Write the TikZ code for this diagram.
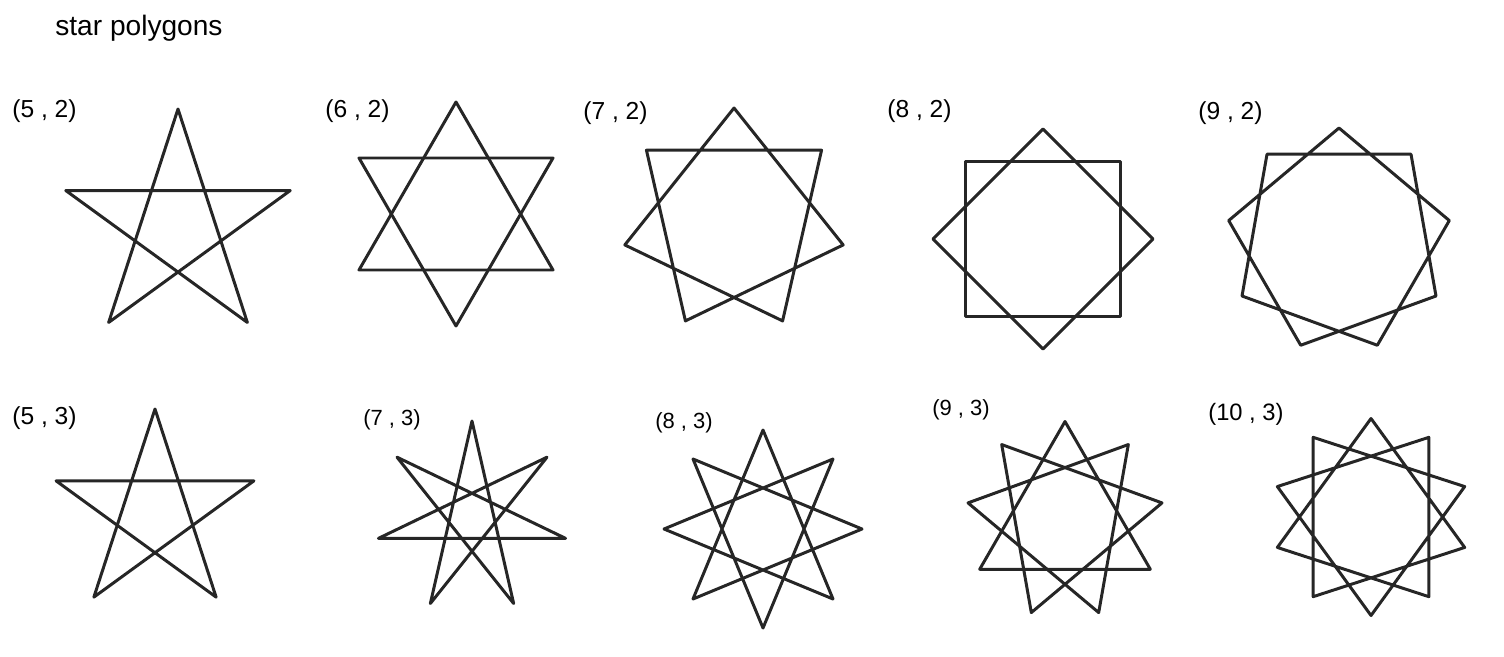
\documentclass[tikz,border=0pt]{standalone}
\usepackage{fontspec}
\setmainfont{Liberation Sans}
\usepackage{tikz}

% #1 centre, #2 radius, #3 n, #4 k
\newcommand{\starpoly}[4]{%
  \pgfmathtruncatemacro{\sgcd}{gcd(#3,#4)}%
  \pgfmathtruncatemacro{\slen}{#3/\sgcd-1}%
  \foreach \j in {1,...,\sgcd}{
    \draw[starline, shift={(#1)}] ({90+360*\j/#3}:#2)
      \foreach \i in {1,...,\slen}{ -- ({90+360*(\j+\i*#4)/#3}:#2)} -- cycle;
  }}

\begin{document}
\begin{tikzpicture}[x=0.02cm, y=0.02cm,
  starline/.style={line width=1.7pt, draw=black!85, line join=round},
  lbl/.style={anchor=base west, inner sep=0pt, font=\fontsize{14}{16}\selectfont},
  lblsmall/.style={lbl, font=\fontsize{12.5}{15}\selectfont}]
\useasboundingbox (0,0) rectangle (1504,-656);
\node[anchor=base west, inner sep=0pt, font=\fontsize{16}{19}\selectfont] (title) at (55,-35) {star polygons};

% top row
\coordinate (s52) at (178,-227);
\coordinate (s62) at (456,-214);
\coordinate (s72) at (734,-220);
\coordinate (s82) at (1043,-239);
\coordinate (s92) at (1339,-240);
\node[lbl] (l52) at (12,-117) {(5 , 2)};
\node[lbl] (l62) at (325,-117) {(6 , 2)};
\node[lbl] (l72) at (583,-119) {(7 , 2)};
\node[lbl] (l82) at (887,-117) {(8 , 2)};
\node[lbl] (l92) at (1198,-119) {(9 , 2)};
\starpoly{s52}{118}{5}{2}
\starpoly{s62}{112}{6}{2}
\starpoly{s72}{112}{7}{2}
\starpoly{s82}{110}{8}{2}
\starpoly{s92}{112}{9}{2}

% bottom row
\coordinate (s53) at (155,-513);
\coordinate (s73) at (472,-517);
\coordinate (s83) at (763,-529);
\coordinate (s93) at (1065,-520);
\coordinate (s103) at (1371,-517);
\node[lbl] (l53) at (12,-424) {(5 , 3)};
\node[lblsmall] (l73) at (363,-425) {(7 , 3)};
\node[lblsmall] (l83) at (655,-428) {(8 , 3)};
\node[lblsmall] (l93) at (932,-415) {(9 , 3)};
\node[lbl, font=\fontsize{13.5}{16}\selectfont] (l103) at (1208,-420) {(10 , 3)};
\starpoly{s53}{104}{5}{3}
\starpoly{s73}{96}{7}{3}
\starpoly{s83}{99}{8}{3}
\starpoly{s93}{98.5}{9}{3}
\starpoly{s103}{98.5}{10}{3}
\end{tikzpicture}
\end{document}
